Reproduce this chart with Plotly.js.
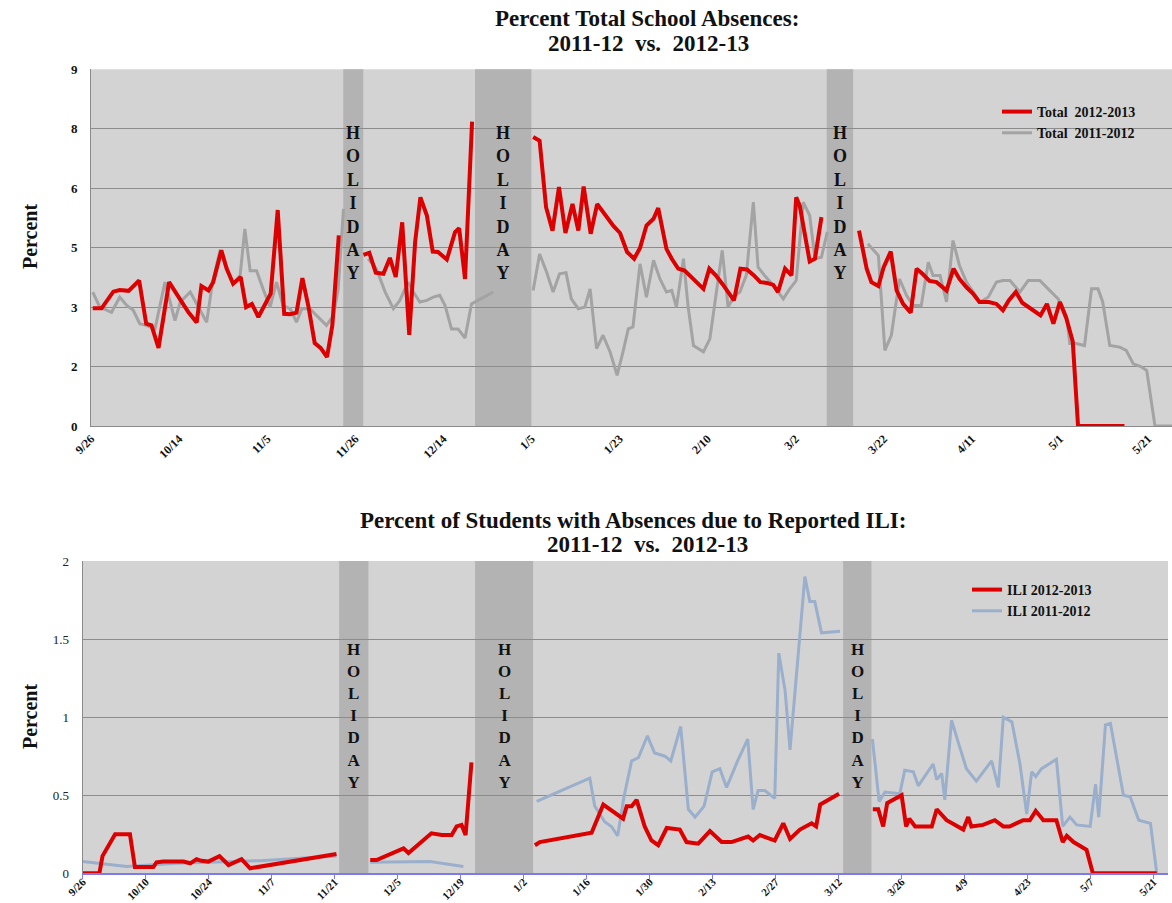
<!DOCTYPE html>
<html><head><meta charset="utf-8">
<script src="https://cdn.plot.ly/plotly-3.0.1.min.js"></script>
<style>html,body{margin:0;padding:0;background:#fff}#chart{width:1172px;height:903px}</style>
</head><body><div id="chart"></div>
<script>
// ---------- TOP CHART: Percent Total School Absences (x = school-day slot) ----------
const topTickVals = [0,15,30,45,60,75,90,105,120,135,150,165,180];
const topTickText = ["9/26","10/14","11/5","11/26","12/14","1/5","1/23","2/10","3/2","3/22","4/11","5/1","5/21"];
const topYTickVals = [0,1.5,3,4.5,6,7.5,9];
const topYTickText = ["0","2","3","5","6","8","9"];

const total1213X = [0.3,1.8,3.8,4.9,6.4,7.2,8.2,9.4,10.3,11.5,13.3,15.2,16.6,18,18.8,20,20.8,22.2,23.1,24.2,25.5,26.4,27.4,28.5,29.6,30.6,31.8,32.9,33.9,35,36,37,38.1,39.1,40.2,41.1,42.2,44.5,
46.4,47.4,48.5,49.8,50.9,51.9,53,54.2,55.2,56.1,57.2,58.2,59.1,60.6,62,62.7,63.7,64.9,70,
75.3,76.4,77.5,78.6,79.7,80.8,82,83,83.9,85.1,86.2,87.8,89,90.1,91.3,92.5,93.5,94.6,95.8,96.6,98,98.9,100,101.1,102.3,104.3,105.3,106.4,107.5,108.5,109.5,110.6,111.7,112.9,114,115.1,116.2,117,118.2,119.3,120.1,120.7,122.4,123.3,124.4,127.5,
130.8,132.1,132.9,134.1,135,136.2,137.2,138.3,139.6,140.6,141.6,142.8,144,145.7,146.9,147.9,149.1,150.2,151.3,152.9,154.2,155.3,156.3,157.5,158.6,159.9,161.7,162.8,163.9,165,166.1,167.2,168.1,176];
const total1213Y = [2.97,2.97,3.39,3.43,3.41,3.53,3.67,2.58,2.54,1.97,3.63,3.19,2.87,2.61,3.53,3.42,3.63,4.43,3.97,3.59,3.76,3.0,3.08,2.75,3.08,3.34,5.45,2.83,2.82,2.86,3.73,3.04,2.09,1.97,1.74,2.54,4.81,null,
4.32,4.37,3.87,3.84,4.24,3.76,5.14,2.30,4.64,5.77,5.31,4.40,4.39,4.2,4.89,4.99,3.71,7.68,null,
7.29,7.2,5.52,4.93,6.03,4.87,5.6,4.93,6.04,4.85,5.6,5.29,5.04,4.87,4.39,4.22,4.49,5.06,5.23,5.5,4.47,4.22,3.97,3.92,3.76,3.46,3.97,3.8,3.59,3.38,3.17,3.97,3.95,3.8,3.63,3.61,3.56,3.38,3.97,3.8,5.77,5.56,4.15,4.22,5.27,null,
4.93,3.97,3.63,3.53,4.01,4.4,3.42,3.08,2.86,3.97,3.84,3.66,3.63,3.42,3.97,3.71,3.5,3.34,3.13,3.13,3.08,2.92,3.17,3.38,3.11,2.97,2.79,3.08,2.58,3.13,2.72,2.13,0,0];

const total1112X = [0.3,1.5,3.5,4.9,6.1,7.2,8.3,9.4,10.9,12.6,14.3,15.2,16.9,18.3,19.7,20.7,22.0,23.1,24.2,25.4,26.2,27.1,28.2,29.3,30.5,31.6,32.7,33.9,35.0,35.9,37.3,38.4,40.1,41.3,42.1,43.0,45,
47.2,48.6,50.1,51.5,52.6,54.0,54.9,56.0,57.2,58.3,59.4,60.3,61.4,62.5,63.7,64.8,65.9,67.4,68.5,72,
75.3,76.4,77.6,78.7,79.8,80.9,81.8,83.0,84.1,85.0,86.1,87.2,88.4,89.6,90.6,91.5,92.3,93.5,94.6,95.8,96.9,98.0,98.9,99.7,100.9,101.7,102.6,104.3,105.4,106.5,107.5,108.5,109.4,110.5,111.6,112.8,113.6,114.7,116.2,117.9,119.0,120.1,121.3,122.4,123.3,124.4,125.4,128,
132.3,134.1,135.2,136.3,137.7,138.9,140.0,141.4,142.6,143.4,144.6,145.7,146.8,147.9,149.1,150.2,151.4,152.8,154.2,155.3,156.5,158.2,159.6,160.7,161.6,163.0,164.7,166.1,166.7,167.8,169.2,170.4,171.5,172.3,173.5,175.2,176.3,177.5,178.9,179.8,181.2,184.1];
const total1112Y = [3.38,3.0,2.87,3.25,3.04,2.92,2.58,2.54,2.45,3.63,2.66,3.13,3.38,3.0,2.62,3.63,4.45,3.97,3.59,3.8,4.97,3.92,3.92,3.46,3.0,3.63,3.04,2.96,2.62,2.96,2.96,2.79,2.54,2.79,3.46,5.48,null,
4.22,3.97,3.38,2.96,3.17,3.63,3.38,3.13,3.17,3.25,3.3,3.04,2.45,2.45,2.22,3.08,3.17,3.29,3.38,null,
3.42,4.34,3.88,3.38,3.84,3.87,3.21,2.96,3.0,3.46,1.95,2.29,1.87,1.28,1.87,2.45,2.5,4.09,3.25,4.18,3.71,3.38,3.42,3.0,4.22,3.0,2.03,1.87,2.2,3.38,4.43,3.0,3.25,3.38,3.8,5.65,4.01,3.8,3.55,3.21,3.46,3.67,5.65,5.31,4.22,4.26,4.9,null,
4.6,4.3,1.91,2.29,3.71,3.29,3.04,3.04,4.13,3.8,3.8,3.13,4.68,4.05,3.63,3.38,3.13,3.25,3.63,3.67,3.67,3.38,3.67,3.67,3.67,3.46,3.21,2.79,2.08,2.08,2.03,3.46,3.46,3.13,2.03,1.99,1.91,1.57,1.49,1.4,0,0];

const topHolidays = [[42.96,46.36],[65.4,75.0],[125.3,129.8]];

// ---------- BOTTOM CHART: ILI absences (x = days since 9/26) ----------
const botTickVals = [0,14,28,42,56,70,84,98,112,126,140,154,168,182,196,210,224,238];
const botTickText = ["9/26","10/10","10/24","11/7","11/21","12/5","12/19","1/2","1/16","1/30","2/13","2/27","3/12","3/26","4/9","4/23","5/7","5/21"];

const ili1213X = [0,3.7,4.4,7.2,10.5,11.6,15.7,16.4,17.9,22.4,23.9,25.3,26.4,27.9,30.4,32.4,35.3,37.2,56.4,60,
63.9,65.3,71.3,72.4,77.5,79.8,82,83.1,84.2,85.1,86.4,93,
100.5,101.6,113.1,114.2,115.7,120.1,120.9,122,123.1,124.9,126.4,127.9,129.8,132.7,134.2,136.8,139.4,142,144.2,147.9,149,150.5,153.8,155.7,157.2,159.4,162,163,163.9,168.1,172,
175.6,176.8,177.9,178.8,182,183,183.7,185,188.7,189.8,192,195.7,196.8,197.5,200.1,202.7,204.6,206,209,210.5,211.8,213.5,216.4,217.8,218.7,220.2,223.1,224.5,238.7];
const ili1213Y = [0,0,0.11,0.25,0.25,0.04,0.04,0.07,0.075,0.075,0.064,0.09,0.08,0.075,0.11,0.053,0.09,0.032,0.124,null,
0.085,0.085,0.16,0.13,0.256,0.245,0.245,0.3,0.31,0.245,0.71,null,
0.18,0.2,0.26,0.34,0.44,0.35,0.43,0.43,0.47,0.3,0.21,0.18,0.29,0.28,0.2,0.19,0.27,0.2,0.2,0.235,0.21,0.245,0.21,0.32,0.22,0.28,0.32,0.3,0.44,0.51,null,
0.41,0.41,0.3,0.45,0.5,0.3,0.35,0.3,0.3,0.41,0.34,0.28,0.36,0.3,0.31,0.34,0.3,0.3,0.34,0.34,0.4,0.34,0.34,0.2,0.24,0.2,0.15,0,0];

const ili1112X = [0,9.8,20.9,39.4,56.4,60,63.9,77.2,84.6,93,
100.9,112.7,113.8,116,117.5,118.9,120.3,122,123.5,125.5,127.1,129.4,130.7,132.9,134.6,136.1,138.1,139.9,141.6,143.1,145.7,147.8,149,150.1,151.6,153.8,154.7,156.1,157.2,158.3,160.5,161.6,162.7,164.2,168.3,172,
175.5,177,178.3,181.6,182.7,184.6,185.7,189,189.8,190.9,191.6,193.1,195,196.4,198.6,202,203.5,204.6,206.5,208.3,209.8,210.9,211.8,213.1,216.4,217.8,219.4,220.9,223.9,225.1,225.8,227.3,228.4,231.3,232.8,234.7,237.3,238.7];
const ili1112Y = [0.075,0.043,0.064,0.081,0.11,null,0.07,0.075,0.043,null,
0.46,0.61,0.43,0.33,0.3,0.24,0.49,0.72,0.74,0.88,0.77,0.75,0.72,0.94,0.41,0.36,0.43,0.65,0.67,0.55,0.73,0.86,0.41,0.53,0.53,0.48,1.41,1.17,0.79,1.17,1.9,1.74,1.74,1.54,1.55,null,
0.86,0.46,0.52,0.51,0.66,0.65,0.56,0.7,0.6,0.64,0.47,0.98,0.8,0.67,0.59,0.72,0.55,1.0,0.97,0.7,0.38,0.65,0.62,0.67,0.73,0.3,0.36,0.31,0.3,0.57,0.36,0.95,0.96,0.5,0.49,0.34,0.32,0];

const botHolidays = [[57.0,63.5],[87.2,100.1],[169.0,175.3]];

// ---------- Build ----------
const SERIF = "Liberation Serif, 'Times New Roman', serif";
const W = 1172, H = 903;
const px = v => v / W, py = v => 1 - v / H;

const traces = [
  {x: total1112X, y: total1112Y, name: "Total\u00a0 2011-2012", mode: "lines", line: {color: "#a3a3a3", width: 3}, xaxis: "x", yaxis: "y", legend: "legend", legendrank: 2, connectgaps: false},
  {x: total1213X, y: total1213Y, name: "Total\u00a0 2012-2013", mode: "lines", line: {color: "#dd0000", width: 4}, xaxis: "x", yaxis: "y", legend: "legend", legendrank: 1, connectgaps: false},
  {x: ili1112X, y: ili1112Y, name: "ILI 2011-2012", mode: "lines", line: {color: "#9aafcc", width: 3}, xaxis: "x2", yaxis: "y2", legend: "legend2", legendrank: 2, connectgaps: false},
  {x: ili1213X, y: ili1213Y, name: "ILI 2012-2013", mode: "lines", line: {color: "#dd0000", width: 4}, xaxis: "x2", yaxis: "y2", legend: "legend2", legendrank: 1, connectgaps: false}
];

const shapes = [];
const annotations = [];
const holidayText = "H<br>O<br>L<br>I<br>D<br>A<br>Y";
topHolidays.forEach(h => {
  shapes.push({type: "rect", xref: "x", yref: "paper", x0: h[0], x1: h[1], y0: py(426), y1: py(69.3), fillcolor: "#b3b3b3", line: {width: 0}, layer: "below"});
  annotations.push({xref: "x", yref: "paper", x: (h[0] + h[1]) / 2, y: py(203), xanchor: "center", yanchor: "middle", text: holidayText, showarrow: false, font: {family: SERIF, size: 18, weight: "bold", color: "#111"}});
});
botHolidays.forEach(h => {
  shapes.push({type: "rect", xref: "x2", yref: "paper", x0: h[0], x1: h[1], y0: py(875), y1: py(561), fillcolor: "#b3b3b3", line: {width: 0}, layer: "below"});
  annotations.push({xref: "x2", yref: "paper", x: (h[0] + h[1]) / 2, y: py(716), xanchor: "center", yanchor: "middle", text: holidayText, showarrow: false, font: {family: SERIF, size: 17, weight: "bold", color: "#111"}});
});

const titleFont = {family: SERIF, size: 23, weight: "bold", color: "#111"};
function ann(x, y, text, font, extra) {
  annotations.push(Object.assign({xref: "paper", yref: "paper", x: px(x), y: py(y), xanchor: "center", yanchor: "middle", text: text, showarrow: false, font: font}, extra || {}));
}
ann(647, 18, "Percent Total School Absences:", titleFont);
ann(648, 43, "2011-12\u00a0 vs.\u00a0 2012-13", titleFont);
ann(633, 520, "Percent of Students with Absences due to Reported ILI:", titleFont);
ann(647, 544, "2011-12\u00a0 vs.\u00a0 2012-13", titleFont);
const ytFont = {family: SERIF, size: 20, weight: "bold", color: "#111"};
ann(30, 237, "Percent", ytFont, {textangle: -90});
ann(30, 717, "Percent", ytFont, {textangle: -90});

const layout = {
  width: W, height: H,
  margin: {l: 0, r: 0, t: 0, b: 0},
  paper_bgcolor: "#ffffff",
  plot_bgcolor: "#d3d3d3",
  showlegend: true,
  xaxis: {domain: [px(91), 1], range: [0, 184.1], anchor: "y", tickmode: "array", tickvals: topTickVals, ticktext: topTickText, tickangle: -45,
    tickfont: {family: SERIF, size: 12, weight: "bold", color: "#111"}, showgrid: false, zeroline: false, showline: true, linecolor: "#8a8a8a", linewidth: 1, ticks: "", automargin: false},
  yaxis: {domain: [py(426), py(69.3)], range: [0, 9], anchor: "x", tickmode: "array", tickvals: topYTickVals, ticktext: topYTickText,
    tickfont: {family: SERIF, size: 13, weight: "bold", color: "#111"}, showgrid: true, gridcolor: "#8c8c8c", gridwidth: 1, zeroline: false, showline: true, linecolor: "#8a8a8a", ticks: "", ticklabelstandoff: 10, automargin: false},
  xaxis2: {domain: [px(82.7), px(1168)], range: [0, 241.2], anchor: "y2", tickmode: "array", tickvals: botTickVals, ticktext: botTickText, tickangle: -45,
    tickfont: {family: SERIF, size: 11, weight: "bold", color: "#111"}, showgrid: false, zeroline: false, showline: true, linecolor: "#7b7bef", linewidth: 2, ticks: "outside", ticklen: 4, tickcolor: "#7b7bef", tickwidth: 1, ticklabelstandoff: -8, automargin: false},
  yaxis2: {domain: [py(873.3), py(561)], range: [0, 2], anchor: "x2", tickmode: "array", tickvals: [0,0.5,1,1.5,2], ticktext: ["0","0.5","1","1.5","2"],
    tickfont: {family: SERIF, size: 13, color: "#222"}, showgrid: true, gridcolor: "#8c8c8c", gridwidth: 1, zeroline: false, showline: true, linecolor: "#8a8a8a", ticks: "", ticklabelstandoff: 10, automargin: false},
  legend: {x: px(997), y: py(96), xanchor: "left", yanchor: "top", bgcolor: "rgba(0,0,0,0)", font: {family: SERIF, size: 14, weight: "bold", color: "#111"}, tracegroupgap: 0},
  legend2: {x: px(967), y: py(574), xanchor: "left", yanchor: "top", bgcolor: "rgba(0,0,0,0)", font: {family: SERIF, size: 14, weight: "bold", color: "#111"}, tracegroupgap: 0},
  shapes: shapes,
  annotations: annotations,
  hovermode: false
};

Plotly.newPlot("chart", traces, layout, {staticPlot: true, displayModeBar: false});
</script>
</body></html>
